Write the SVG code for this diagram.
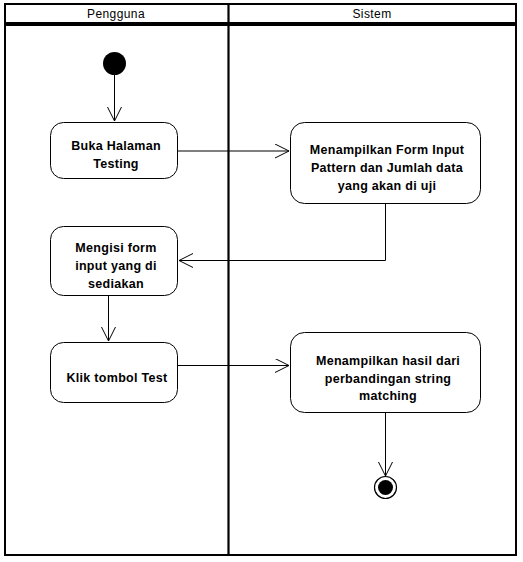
<svg xmlns="http://www.w3.org/2000/svg" width="523" height="562" viewBox="0 0 523 562">
<defs>
<style>
.lane{fill:#fff;stroke:#000;stroke-width:2}
.hdr{font-family:"Liberation Sans",Arial,sans-serif;font-size:12px;letter-spacing:0.4px;fill:#000;text-anchor:middle}
.box{fill:#fff;stroke:#000;stroke-width:1}
.lbl{font-family:"Liberation Sans",Arial,sans-serif;font-size:12.5px;font-weight:bold;letter-spacing:0.3px;fill:#000;text-anchor:middle}
.edge{fill:none;stroke:#000;stroke-width:1}
</style>
<marker id="arr" markerWidth="16" markerHeight="16" refX="14" refY="7" orient="auto" markerUnits="userSpaceOnUse">
<path d="M0,0 L14,7 L0,14" fill="none" stroke="#000" stroke-width="1"/>
</marker>
</defs>
<rect x="0" y="0" width="523" height="562" fill="#fff"/>
<g id="swimlanes">
<rect class="lane" x="5" y="4" width="511" height="19"/>
<rect class="lane" x="5" y="25" width="511" height="530"/>
<line x1="228.5" y1="4" x2="228.5" y2="555" stroke="#000" stroke-width="2.2"/>
<text class="hdr" x="116" y="18">Pengguna</text>
<text class="hdr" x="372" y="18">Sistem</text>
</g>
<g id="connectors">
<line class="edge" x1="114.5" y1="75" x2="114.5" y2="121" marker-end="url(#arr)"/>
<line class="edge" x1="178" y1="151" x2="289" y2="151" marker-end="url(#arr)"/>
<polyline class="edge" points="385.5,203 385.5,260.5 179,260.5" marker-end="url(#arr)"/>
<line class="edge" x1="108.5" y1="296" x2="108.5" y2="341" marker-end="url(#arr)"/>
<line class="edge" x1="178" y1="365.5" x2="289" y2="365.5" marker-end="url(#arr)"/>
<line class="edge" x1="385.5" y1="413" x2="385.5" y2="476" marker-end="url(#arr)"/>
</g>
<g id="start">
<circle cx="114.5" cy="63.5" r="11.5" fill="#000"/>
</g>
<g id="buka-halaman">
<rect class="box" x="50.5" y="122.5" width="127" height="56" rx="13" ry="13"/>
<text class="lbl" x="116" y="150">Buka Halaman</text>
<text class="lbl" x="116" y="168">Testing</text>
</g>
<g id="tampil-form">
<rect class="box" x="290.5" y="122.5" width="190" height="81" rx="14" ry="14"/>
<text class="lbl" x="387" y="154">Menampilkan Form Input</text>
<text class="lbl" x="387" y="172">Pattern dan Jumlah data</text>
<text class="lbl" x="387" y="190">yang akan di uji</text>
</g>
<g id="mengisi-form">
<rect class="box" x="50.5" y="226.5" width="127" height="69" rx="13" ry="13"/>
<text class="lbl" x="116" y="252">Mengisi form</text>
<text class="lbl" x="116" y="270">input yang di</text>
<text class="lbl" x="116" y="288">sediakan</text>
</g>
<g id="klik-test">
<rect class="box" x="50.5" y="342.5" width="127" height="60" rx="13" ry="13"/>
<text class="lbl" x="117" y="382">Klik tombol Test</text>
</g>
<g id="tampil-hasil">
<rect class="box" x="290.5" y="332.5" width="190" height="80" rx="14" ry="14"/>
<text class="lbl" x="388" y="365">Menampilkan hasil dari</text>
<text class="lbl" x="388" y="383">perbandingan string</text>
<text class="lbl" x="388" y="400">matching</text>
</g>
<g id="end">
<circle cx="385.5" cy="487.5" r="11" fill="#fff" stroke="#000" stroke-width="1.2"/>
<circle cx="385.5" cy="487.5" r="7.5" fill="#000"/>
</g>
</svg>
